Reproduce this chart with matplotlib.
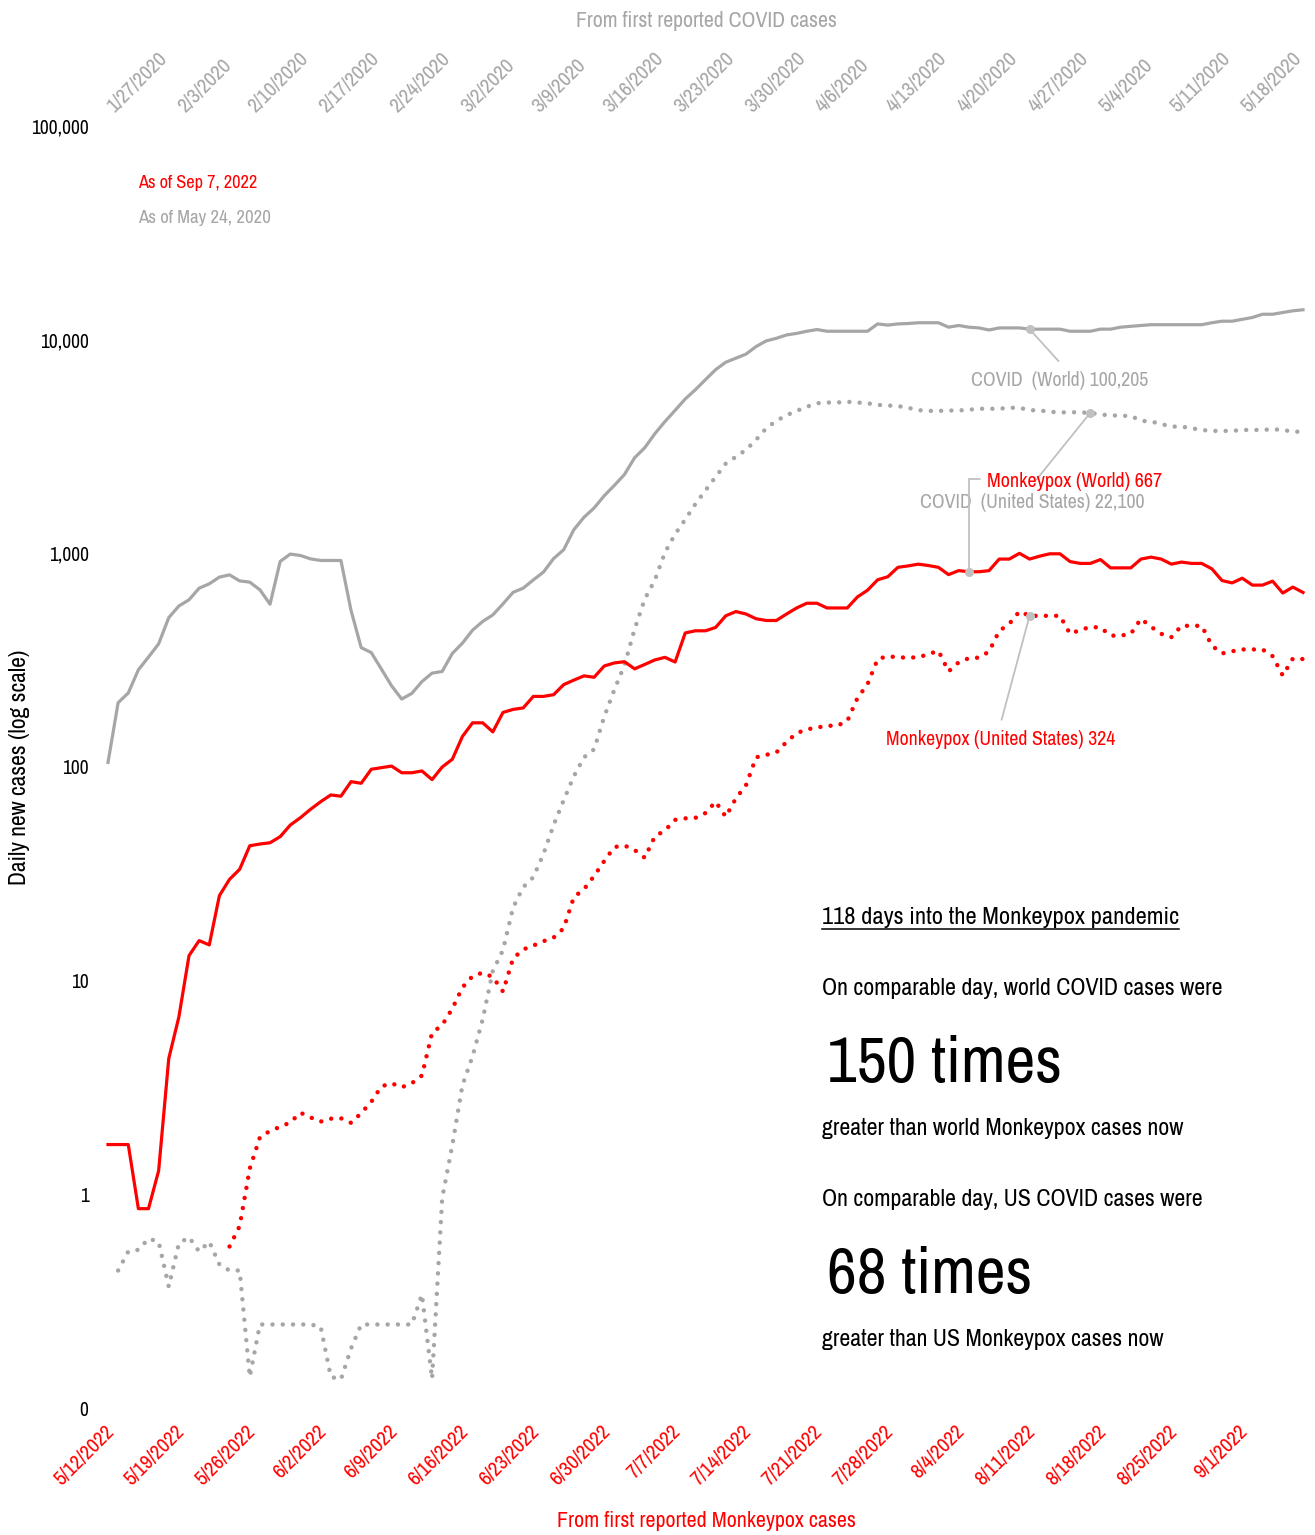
import matplotlib
matplotlib.use("Agg")
import matplotlib.pyplot as plt
import matplotlib.transforms as mtransforms
import numpy as np
from matplotlib import font_manager
from matplotlib.lines import Line2D
from matplotlib.ticker import NullLocator

nan = np.nan

# days since first reported cases (5/12/2022 for Monkeypox, 1/27/2020 for COVID)
days = np.arange(119)

covid_world = [105, 200, 222, 285, 327, 377, 500, 567, 606, 687, 720, 774, 793, 743, 733, 675,
               578, 916, 992, 977, 942, 926, 926, 926, 540, 362, 343, 287, 240, 208, 221, 251,
               275, 280, 340, 380, 437, 480, 515, 580, 657, 687, 751, 817, 945, 1040, 1290, 1475,
               1630, 1860, 2080, 2340, 2800, 3120, 3630, 4140, 4670, 5280, 5830, 6500, 7240, 7840,
               8190, 8560, 9290, 9870, 10150, 10520, 10700, 10950, 11150, 10950, 10950, 10950,
               10950, 10950, 11850, 11700, 11850, 11900, 12000, 12000, 12000, 11440, 11650, 11440,
               11350, 11100, 11350, 11350, 11350, 11200, 11200, 11200, 11200, 10950, 10950, 10950,
               11200, 11200, 11440, 11550, 11650, 11750, 11750, 11750, 11750, 11750, 11750, 12000,
               12200, 12200, 12450, 12700, 13150, 13150, 13400, 13650, 13800]

covid_us = [nan, 0.44, 0.54, 0.55, 0.62, 0.60, 0.37, 0.59, 0.63, 0.54, 0.60, 0.47, 0.44, 0.44,
            0.14, 0.246, 0.246, 0.246, 0.246, 0.246, 0.246, 0.24, 0.14, 0.136, 0.19, 0.246, 0.246,
            0.246, 0.246, 0.246, 0.246, 0.34, 0.137, 0.96, 1.70, 3.24, 4.43, 6.6, 11.1, 13.9, 22.0,
            27.4, 30.5, 39.2, 53.5, 70, 90.5, 111, 121, 172, 230, 300, 442, 610, 750, 1010, 1230,
            1440, 1700, 1970, 2280, 2630, 2830, 3050, 3400, 3850, 4170, 4430, 4640, 4850, 5040,
            5080, 5080, 5120, 5080, 5040, 4950, 4920, 4890, 4800, 4680, 4640, 4640, 4660, 4660,
            4700, 4750, 4750, 4750, 4800, 4800, 4680, 4660, 4600, 4560, 4580, 4560, 4550, 4460,
            4430, 4400, 4400, 4170, 4140, 4030, 3920, 3920, 3850, 3780, 3740, 3740, 3740, 3780,
            3780, 3780, 3810, 3780, 3710, 3710]

mpox_world = [1.71, 1.71, 1.71, 0.857, 0.857, 1.29, 4.32, 6.77, 13.1, 15.4, 14.7, 25, 29.8, 33.2,
              42.8, 43.6, 44.2, 47.2, 53.5, 57.9, 63.4, 68.8, 74, 73, 85.4, 83.9, 97.6, 99.3, 101,
              94, 94, 95.8, 87.3, 100, 108.7, 139, 161, 161, 146, 180, 186, 189, 214, 214, 218, 243,
              255, 267, 263, 297, 307, 311, 288, 302, 317, 326, 310, 424, 434, 434, 450, 510, 534,
              520, 494, 485, 485, 520, 555, 584, 584, 555, 555, 555, 625, 672, 752, 777, 860, 873,
              890, 877, 860, 795, 830, 820, 820, 830, 940, 940, 1000, 940, 970, 995, 995, 915, 897,
              897, 935, 855, 855, 855, 940, 960, 940, 890, 910, 897, 897, 846, 746, 727, 765, 710,
              710, 741, 652, 695, 656]

mpox_us = [nan, nan, nan, nan, nan, nan, nan, nan, nan, nan, nan, nan, 0.57, 0.71, 1.32, 1.85,
           1.98, 2.07, 2.17, 2.41, 2.29, 2.19, 2.26, 2.27, 2.16, 2.40, 2.71, 3.20, 3.31, 3.17,
           3.31, 3.6, 5.7, 6.2, 7.4, 9.3, 10.5, 10.9, 10.4, 8.9, 12.7, 14.0, 14.6, 15.3, 15.9,
           17.6, 24.6, 26.8, 30.9, 36.3, 42.2, 42.9, 40.9, 37.6, 47.3, 50.5, 56.6, 57.5, 57.8,
           60.9, 68.8, 58.5, 71.3, 82.2, 111, 114, 117, 131, 144, 150, 153, 156, 156, 164, 210,
           244, 320, 330, 326, 325, 326, 337, 350, 280, 309, 323, 325, 347, 433, 468, 535, 510,
           510, 510, 510, 420, 438, 452, 450, 412, 412, 420, 494, 453, 420, 405, 458, 458, 458,
           370, 340, 348, 355, 355, 355, 330, 268, 322, 320]

tick_days = list(range(0, 113, 7))
mpox_dates = ["5/12/2022", "5/19/2022", "5/26/2022", "6/2/2022", "6/9/2022", "6/16/2022",
              "6/23/2022", "6/30/2022", "7/7/2022", "7/14/2022", "7/21/2022", "7/28/2022",
              "8/4/2022", "8/11/2022", "8/18/2022", "8/25/2022", "9/1/2022"]
covid_dates = ["1/27/2020", "2/3/2020", "2/10/2020", "2/17/2020", "2/24/2020", "3/2/2020",
               "3/9/2020", "3/16/2020", "3/23/2020", "3/30/2020", "4/6/2020", "4/13/2020",
               "4/20/2020", "4/27/2020", "5/4/2020", "5/11/2020", "5/18/2020"]

y_ticks = [0.1, 1, 10, 100, 1000, 10000, 100000]
y_labels = ["0", "1", "10", "100", "1,000", "10,000", "100,000"]

RED = "#ff0000"
GRAY = "#a6a6a6"
DOT = "#c0c0c0"


def pick_narrow_font():
    # look for a narrow / condensed regular face among the installed fonts
    best = None
    for f in font_manager.fontManager.ttflist:
        key = (f.name + " " + f.fname).lower()
        if any(b in key for b in ("bold", "italic", "oblique", "mono", "serif", "light",
                                  "thin", "black", "medium")):
            continue
        if "cjk" in key:
            continue
        if "narrow" in key:
            rank = 0
        elif "semicondensed" in key or "semi condensed" in key:
            rank = 2
        elif "extracondensed" in key or "extra condensed" in key or "ultra" in key:
            rank = 3
        elif "condensed" in key:
            rank = 1
        else:
            continue
        if best is None or rank < best[0]:
            best = (rank, f)
    return None if best is None else best[1]


narrow = pick_narrow_font()
if narrow is not None:
    plt.rcParams['font.family'] = [narrow.name, 'DejaVu Sans']
    plt.rcParams['font.stretch'] = narrow.stretch
    FS = 1.0
else:
    plt.rcParams['font.family'] = ['DejaVu Sans']
    FS = 0.84

W, H = 1315, 1535
fig = plt.figure(figsize=(W / 100, H / 100), dpi=100)
ax = fig.add_axes([108 / W, (H - 1408) / H, (1303 - 108) / W, (1408 - 126) / H])

dotted = (0, (0.01, 2.3))
ax.plot(days, covid_world, color=GRAY, lw=2.3, clip_on=False, solid_joinstyle='round')
ax.plot(days, covid_us, color=GRAY, lw=3.2, linestyle=dotted, dash_capstyle='round', clip_on=False)
ax.plot(days, mpox_world, color=RED, lw=2.3, clip_on=False, solid_joinstyle='round')
ax.plot(days, mpox_us, color=RED, lw=3.2, linestyle=dotted, dash_capstyle='round', clip_on=False)

ax.set_yscale('log')
ax.set_ylim(0.1, 100000)
ax.set_xlim(0, 118)
ax.set_yticks(y_ticks, y_labels)
ax.yaxis.set_minor_locator(NullLocator())
ax.tick_params(axis='y', length=0, pad=14, labelsize=14 * FS, labelcolor='black')
ax.set_xticks(tick_days, mpox_dates)
ax.tick_params(axis='x', length=0, pad=10, labelsize=15 * FS, labelcolor=RED)
shift_bottom = mtransforms.ScaledTranslation(-4 / 100, 0, fig.dpi_scale_trans)
for lab in ax.get_xticklabels():
    lab.set_rotation(45)
    lab.set_ha('right')
    lab.set_va('top')
    lab.set_rotation_mode('anchor')
    lab.set_transform(lab.get_transform() + shift_bottom)
for s in ax.spines.values():
    s.set_visible(False)

top = ax.secondary_xaxis('top')
top.set_xticks(tick_days, covid_dates)
top.tick_params(length=0, pad=7, labelsize=15 * FS, labelcolor=GRAY)
shift_top = mtransforms.ScaledTranslation(9 / 100, 0, fig.dpi_scale_trans)
for lab in top.get_xticklabels():
    lab.set_rotation(45)
    lab.set_ha('left')
    lab.set_va('bottom')
    lab.set_rotation_mode('anchor')
    lab.set_transform(lab.get_transform() + shift_top)
for s in top.spines.values():
    s.set_visible(False)

# axis titles
fig.text(706 / W, 1 - 27 / H, "From first reported COVID cases", color=GRAY, fontsize=15.7 * FS,
         ha='center', va='baseline')
fig.text(706 / W, 1 - 1527 / H, "From first reported Monkeypox cases", color=RED,
         fontsize=15.8 * FS, ha='center', va='baseline')
fig.text(20 / W, 1 - 767 / H, "Daily new cases (log scale)", color='black', fontsize=17 * FS,
         rotation=90, ha='center', va='center')

fig.text(138 / W, 1 - 188 / H, "As of Sep 7, 2022", color=RED, fontsize=13.2 * FS, va='baseline')
fig.text(138 / W, 1 - 223 / H, "As of May 24, 2020", color=GRAY, fontsize=13.5 * FS,
         va='baseline')

# end-of-series callouts
PX = 0.72  # points per pixel


def callout(series, day, text, color, text_px, end_px=None, elbow=False):
    x, y = day, series[day]
    if elbow:
        ax.annotate(text, xy=(x, y), xytext=(text_px[0] * PX, text_px[1] * PX),
                    textcoords='offset points', ha='left', va='baseline', color=color,
                    fontsize=14.5 * FS,
                    arrowprops=dict(arrowstyle='-', color=DOT, lw=1.3, shrinkA=3, shrinkB=0,
                                    relpos=(0, 0.6),
                                    connectionstyle='angle,angleA=0,angleB=90,rad=0'))
    else:
        ax.annotate(text, xy=(x, y), xytext=(text_px[0] * PX, text_px[1] * PX),
                    textcoords='offset points', ha='left', va='baseline', color=color,
                    fontsize=14.3 * FS)
        ax.annotate('', xy=(x, y), xytext=(end_px[0] * PX, end_px[1] * PX),
                    textcoords='offset points',
                    arrowprops=dict(arrowstyle='-', color=DOT, lw=1.3, shrinkA=0, shrinkB=0))
    ax.plot([x], [y], 'o', color=DOT, ms=6.5, mec='none', zorder=5, clip_on=False)


callout(covid_world, 91, "COVID  (World) 100,205", GRAY, (-59, -57), (29, -32))
callout(covid_us, 97, "COVID  (United States) 22,100", GRAY, (-170, -95), (-54, -67))
callout(mpox_world, 85, "Monkeypox (World) 667", RED, (18, 85), elbow=True)
callout(mpox_us, 91, "Monkeypox (United States) 324", RED, (-144, -129), (-28, -104))

# comparison text block
BODY = 17.2 * FS
head = fig.text(822 / W, 1 - 924 / H, "118 days into the Monkeypox pandemic", fontsize=17.6 * FS,
                va='baseline')
fig.text(822 / W, 1 - 995 / H, "On comparable day, world COVID cases were", fontsize=BODY,
         va='baseline')
fig.text(827 / W, 1 - 1082 / H, "150 times", fontsize=47 * FS, va='baseline')
fig.text(822 / W, 1 - 1135 / H, "greater than world Monkeypox cases now", fontsize=BODY,
         va='baseline')
fig.text(822 / W, 1 - 1206 / H, "On comparable day, US COVID cases were", fontsize=BODY,
         va='baseline')
fig.text(827 / W, 1 - 1293 / H, "68 times", fontsize=47 * FS, va='baseline')
fig.text(822 / W, 1 - 1346 / H, "greater than US Monkeypox cases now", fontsize=BODY,
         va='baseline')

fig.canvas.draw()
bb = head.get_window_extent()
uy = (H - 929) / H
fig.add_artist(Line2D([bb.x0 / W, bb.x1 / W], [uy, uy], color='black', lw=1.1,
                      transform=fig.transFigure))

fig.savefig("out.png", dpi=100, facecolor='white')
